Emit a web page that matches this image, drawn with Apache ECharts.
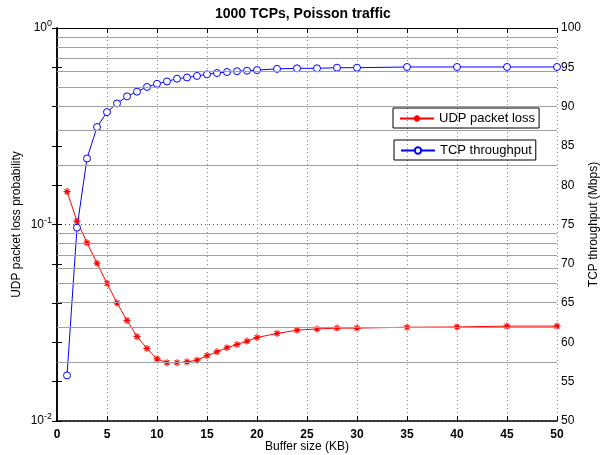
<!DOCTYPE html>
<html>
<head>
    <meta charset="utf-8">
    <title>1000 TCPs, Poisson traffic</title>
    <script src="https://cdn.jsdelivr.net/npm/echarts@6/dist/echarts.min.js"></script>
    <style>
        html, body { margin: 0; padding: 0; background: #fff; }
    </style>
</head>
<body>
<div id="chart1" style="width: 607px; height: 455px;"></div>
<script>
    // buffer sizes (KB) on the x axis
    var bufferKB = [1, 2, 3, 4, 5, 6, 7, 8, 9, 10, 11, 12, 13, 14, 15, 16, 17, 18, 19, 20,
        22, 24, 26, 28, 30, 35, 40, 45, 50];
    // UDP packet loss probability (left, log axis)
    var udpLoss = [0.147, 0.104, 0.0807, 0.0635, 0.0502, 0.0399, 0.0325, 0.0269, 0.0234, 0.0207,
        0.0198, 0.0198, 0.0200, 0.0204, 0.0215, 0.0225, 0.0236, 0.0245, 0.0255, 0.0266,
        0.0279, 0.0290, 0.0294, 0.0297, 0.0297, 0.0300, 0.0301, 0.0304, 0.0304];
    // TCP throughput in Mbps (right axis)
    var tcpThroughput = [55.8, 74.6, 83.4, 87.4, 89.3, 90.4, 91.3, 91.9, 92.5, 92.9,
        93.2, 93.55, 93.7, 93.9, 94.1, 94.27, 94.4, 94.5, 94.57, 94.65,
        94.8, 94.87, 94.87, 94.95, 94.95, 95.04, 95.04, 95.04, 95.04];
    // log-axis minor grid values
    var lossMinorGrid = [0.02, 0.03, 0.04, 0.05, 0.06, 0.07, 0.08, 0.09,
        0.2, 0.3, 0.4, 0.5, 0.6, 0.7, 0.8, 0.9];

    var font = 'Liberation Sans, Arial, Helvetica, sans-serif';
    var asterisk = 'path://M0,-10L0,10M-10,0L10,0M-7,-7L7,7M-7,7L7,-7';

    var chart1 = echarts.init(document.getElementById('chart1'));
    var option1 = {
        animation: false,
        textStyle: {fontFamily: font},
        title: {
            text: '1000 TCPs, Poisson traffic',
            left: 210,
            top: 2,
            textStyle: {fontSize: 14, fontWeight: 'bold', color: '#000', fontFamily: font}
        },
        legend: [
            {
                data: ['UDP packet loss'],
                left: 393,
                top: 108,
                orient: 'vertical',
                padding: [4, 4, 3, 6],
                itemWidth: 34,
                itemHeight: 8,
                borderColor: '#000',
                borderWidth: 1,
                borderRadius: 0,
                textStyle: {fontSize: 13, color: '#000', fontFamily: font}
            },
            {
                data: ['TCP throughput'],
                left: 394,
                top: 140,
                orient: 'vertical',
                padding: [4, 4, 3, 6],
                itemWidth: 34,
                itemHeight: 8,
                borderColor: '#000',
                borderWidth: 1,
                borderRadius: 0,
                textStyle: {fontSize: 13, color: '#000', fontFamily: font}
            }
        ],
        grid: {
            left: 57,
            right: 50,
            top: 28,
            bottom: 34,
            containLabel: false,
            outerBoundsMode: 'none'
        },
        xAxis: [
            {
                type: 'value',
                min: 0,
                max: 50,
                interval: 5,
                name: 'Buffer size (KB)',
                nameLocation: 'middle',
                nameGap: 20,
                nameMoveOverlap: false,
                nameTextStyle: {fontSize: 12, color: '#000', fontFamily: font},
                axisLine: {lineStyle: {color: '#000', width: 1.5}},
                axisTick: {inside: true, length: 5, lineStyle: {color: '#000'}},
                axisLabel: {fontSize: 12, fontWeight: 'bold', color: '#000', margin: 8},
                splitLine: {show: true, lineStyle: {color: '#888', type: [1, 3], width: 1}}
            },
            {
                type: 'value',
                position: 'top',
                min: 0,
                max: 50,
                interval: 5,
                axisLine: {lineStyle: {color: '#000', width: 1}},
                axisTick: {inside: true, length: 5, lineStyle: {color: '#000'}},
                axisLabel: {show: false},
                splitLine: {show: false}
            }
        ],
        yAxis: [
            {
                type: 'log',
                logBase: 10,
                min: 0.01,
                max: 1,
                position: 'left',
                name: 'UDP packet loss probability',
                nameLocation: 'middle',
                nameGap: 34,
                nameMoveOverlap: false,
                nameTextStyle: {fontSize: 12, color: '#000', fontFamily: font},
                axisLine: {lineStyle: {color: '#000', width: 1.5}},
                axisTick: {inside: true, length: 5, lineStyle: {color: '#000'}},
                axisLabel: {
                    margin: 5,
                    color: '#000',
                    formatter: function (v) {
                        return '{b|10}{s|' + Math.round(Math.log10(v)) + '}';
                    },
                    rich: {
                        b: {fontSize: 12, color: '#000', fontFamily: font},
                        s: {fontSize: 9, color: '#000', fontFamily: font, padding: [0, 0, 8, 0]}
                    }
                },
                splitLine: {show: true, lineStyle: {color: '#555', type: [1, 3], width: 1}}
            },
            {
                type: 'value',
                min: 50,
                max: 100,
                interval: 5,
                position: 'right',
                name: 'TCP throughput (Mbps)',
                nameLocation: 'middle',
                nameGap: 31,
                nameRotate: 90,
                nameMoveOverlap: false,
                nameTextStyle: {fontSize: 12, color: '#000', fontFamily: font},
                axisLine: {show: true, lineStyle: {color: '#000', width: 1.5}},
                axisTick: {show: true, inside: true, length: 5, lineStyle: {color: '#000'}},
                axisLabel: {fontSize: 12, color: '#000', margin: 4},
                splitLine: {show: false}
            },
            {
                type: 'value',
                min: 50,
                max: 100,
                interval: 5,
                position: 'left',
                axisLine: {show: false},
                axisTick: {show: true, inside: true, length: 5, lineStyle: {color: '#000'}},
                axisLabel: {show: false},
                splitLine: {show: false}
            }
        ],
        series: [
            {
                name: 'UDP packet loss',
                type: 'line',
                xAxisIndex: 0,
                yAxisIndex: 0,
                data: bufferKB.map(function (x, i) { return [x, udpLoss[i]]; }),
                symbol: asterisk,
                symbolSize: 7,
                showAllSymbol: true,
                lineStyle: {color: '#ff0000', width: 1},
                itemStyle: {color: '#ff0000', borderColor: '#ff0000', borderWidth: 1.1},
                markLine: {
                    silent: true,
                    symbol: ['none', 'none'],
                    label: {show: false},
                    lineStyle: {color: '#a0a0a0', type: 'solid', width: 1.2},
                    emphasis: {disabled: true},
                    data: lossMinorGrid.map(function (v) { return {yAxis: v}; })
                }
            },
            {
                name: 'TCP throughput',
                type: 'line',
                xAxisIndex: 0,
                yAxisIndex: 1,
                data: bufferKB.map(function (x, i) { return [x, tcpThroughput[i]]; }),
                symbol: 'circle',
                symbolSize: 7,
                showAllSymbol: true,
                lineStyle: {color: '#0000ff', width: 1},
                itemStyle: {color: '#ffffff', borderColor: '#0000ff', borderWidth: 1}
            }
        ]
    };
    chart1.setOption(option1);
</script>
</body>
</html>
